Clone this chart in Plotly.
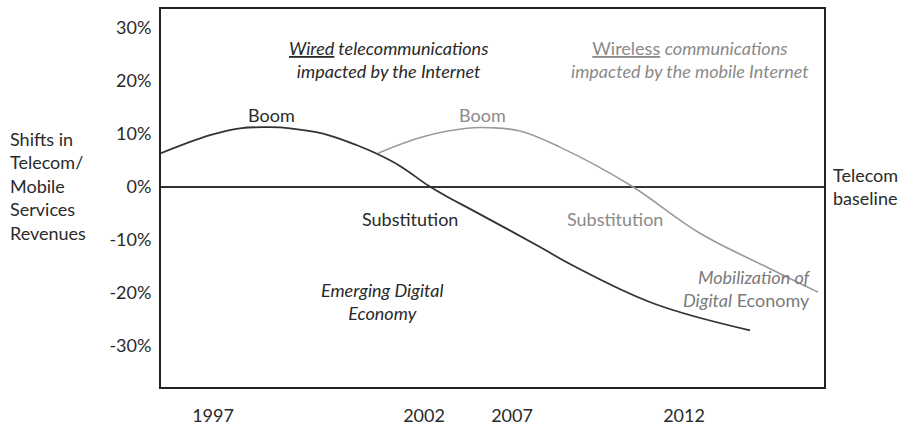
import plotly.graph_objects as go

# Conceptual timeline position (arbitrary units) and revenue shift (%)
wired_x = [0, 49, 79, 109, 129, 162, 196, 217, 239, 268, 289, 309, 379, 409, 492, 589]
wired_y = [6.3, 9.7, 11.0, 11.2, 11.0, 10.0, 7.8, 6.1, 3.9, 0.1, -2.2, -4.2, -11.4, -14.6, -22.0, -27.1]

wireless_x = [217, 262, 306, 329, 359, 399, 469, 539, 606, 657]
wireless_y = [6.3, 9.4, 11.0, 11.1, 10.5, 7.45, 0.3, -8.8, -15.2, -19.9]

year_pos = [52, 263, 351, 523]
year_labels = ["1997", "2002", "2007", "2012"]

y_ticks = [30, 20, 10, 0, -10, -20, -30]
y_labels = ["30%", "20%", "10%", "0%", "-10%", "-20%", "-30%"]

FONT = "Lato"
DARK = "#2a2a2a"
GRAY = "#8a8a8a"

fig = go.Figure()
fig.add_trace(go.Scatter(x=wired_x, y=wired_y, mode="lines",
                         line=dict(color="#333333", width=1.8, shape="spline", smoothing=1.1),
                         showlegend=False, hoverinfo="skip"))
fig.add_trace(go.Scatter(x=wireless_x, y=wireless_y, mode="lines",
                         line=dict(color="#9a9a9a", width=1.6, shape="spline", smoothing=1.1),
                         showlegend=False, hoverinfo="skip"))

fs = 18
ann = []
def A(x, y, text, color=DARK, size=fs, xref="x", yref="y", align="center", xanchor="center"):
    ann.append(dict(x=x, y=y, xref=xref, yref=yref, text=text, showarrow=False,
                    font=dict(family=FONT, size=size, color=color), align=align, xanchor=xanchor,
                    yanchor="middle"))

A(110, 13.6, "Boom")
A(321, 13.6, "Boom", color=GRAY)
A(227, 24.0, "<i><u>Wired</u> telecommunications<br>impacted by the Internet</i>")
A(529, 24.0, "<u>Wireless</u> <i>communications<br>impacted by the mobile Internet</i>", color=GRAY)
A(249, -6.1, "Substitution")
A(454, -6.1, "Substitution", color=GRAY)
A(221, -21.6, "<i>Emerging Digital<br>Economy</i>")
A(652, -19.3, "<i>Mobilization of<br>Digital</i> Economy", color="#7a7a7a", align="right", xanchor="right")
A(1.010, 0.1, "Telecom<br>baseline", xref="paper", align="left", xanchor="left")
A(-0.231, 0.2, "Shifts in<br>Telecom/<br>Mobile<br>Services<br>Revenues", xref="paper", align="left", xanchor="left")

fig.update_layout(
    width=909, height=430,
    margin=dict(l=161, r=85, t=9, b=43),
    paper_bgcolor="white", plot_bgcolor="white",
    font=dict(family=FONT, size=fs, color=DARK),
    annotations=ann,
    xaxis=dict(range=[0, 663], tickvals=year_pos, ticktext=year_labels, showgrid=False,
               zeroline=False, showline=True, mirror=True, linecolor="#222", linewidth=2,
               ticks="", ticklabelstandoff=11, automargin=False,
               tickfont=dict(family=FONT, size=fs, color=DARK)),
    yaxis=dict(range=[-37.8, 33.5], tickvals=y_ticks, ticktext=y_labels, showgrid=False,
               zeroline=True, zerolinecolor="#333", zerolinewidth=1.5,
               showline=True, mirror=True, linecolor="#222", linewidth=2,
               ticks="", ticklabelstandoff=4, automargin=False,
               tickfont=dict(family=FONT, size=fs, color=DARK)),
)

fig.write_html("out.html", config={"displayModeBar": False},
               post_script="document.body.style.margin='0';document.body.style.overflow='hidden';")
